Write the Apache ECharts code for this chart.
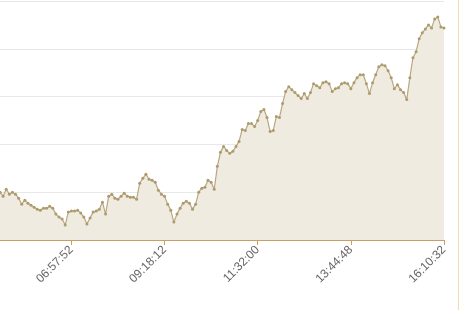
<!DOCTYPE html>
<html><head><meta charset="utf-8">
<script src="https://cdn.jsdelivr.net/npm/echarts@6/dist/echarts.min.js"></script>
<style>html,body{margin:0;padding:0;background:#fff}#c{width:461px;height:310px}</style>
</head><body><div id="c"></div>
<script>
// tick labels visible on the x axis (every 30th category)
const tickLabels = ['04:37:32', '06:57:52', '09:18:12', '11:32:00', '13:44:48', '16:10:32'];
const pointsPerTick = 30;
const firstVisible = 7;
// series values
const values = [
  44, 46, 43, 45, 42, 44, 46, 48, 44, 51,
  46, 48, 46, 42, 36, 40, 37, 35, 33, 31,
  30, 32, 32, 34, 32, 26, 23, 21, 15, 28,
  29, 29, 30, 27, 23, 16, 22, 28, 29, 31,
  38, 26, 44, 46, 42, 41, 44, 47, 44, 43,
  43, 41, 57, 62, 66, 61, 60, 58, 50, 46,
  44, 36, 30, 18, 26, 32, 37, 39, 37, 31,
  36, 48, 52, 53, 60, 58, 51, 74, 88, 94,
  90, 87, 89, 94, 99, 111, 110, 117, 117, 114,
  120, 129, 131, 123, 109, 110, 124, 123, 137, 149,
  154, 151, 148, 145, 142, 147, 142, 148, 157, 155,
  153, 158, 159, 157, 149, 152, 153, 157, 158, 157,
  152, 158, 163, 166, 166, 157, 147, 158, 166, 174,
  176, 175, 170, 163, 152, 156, 151, 148, 141, 163,
  183, 189, 202, 208, 212, 216, 213, 222, 224, 214,
  213
];
function toSec(t){const p=t.split(':').map(Number);return p[0]*3600+p[1]*60+p[2];}
function fmt(s){s=Math.round(s);const h=Math.floor(s/3600),m=Math.floor(s%3600/60),x=s%60;return [h,m,x].map(v=>String(v).padStart(2,'0')).join(':');}
const categories = [];
for (let k = 0; k < tickLabels.length - 1; k++) {
  const a = toSec(tickLabels[k]), b = toSec(tickLabels[k+1]);
  for (let j = 0; j < pointsPerTick; j++) categories.push(fmt(a + (b - a) * j / pointsPerTick));
}
categories.push(tickLabels[tickLabels.length - 1]);
const onTick = (i) => i % pointsPerTick === 0;

const chart = echarts.init(document.getElementById('c'), null, {renderer: 'canvas'});
chart.setOption({
  animation: false,
  grid: {left: 0, right: 17, top: 1, bottom: 70, containLabel: false},
  xAxis: {
    type: 'category', data: categories, boundaryGap: false, min: firstVisible,
    axisLine: {lineStyle: {color: '#c8a062', width: 1}},
    axisTick: {show: true, interval: onTick, length: 5, lineStyle: {color: '#c8a062'}},
    axisLabel: {interval: onTick, rotate: 45, color: '#666', fontSize: 12, margin: 8,
      fontFamily: 'Liberation Sans, Arial, sans-serif'},
    splitLine: {show: false}
  },
  yAxis: {
    type: 'value', min: 0, max: 240, interval: 48,
    axisLine: {show: false}, axisTick: {show: false}, axisLabel: {show: false},
    splitLine: {lineStyle: {color: '#e8e8e8'}}
  },
  series: [{
    type: 'line', data: values,
    symbol: 'circle', symbolSize: 3, showAllSymbol: true,
    itemStyle: {color: '#ad9a6d'},
    lineStyle: {color: '#b9a77f', width: 1.2},
    areaStyle: {color: '#f0ebe1', opacity: 1}
  }],
  graphic: [{type: 'rect', shape: {x: 458, y: 0, width: 1, height: 310}, style: {fill: '#f3dcae'}}]
});
</script></body></html>
